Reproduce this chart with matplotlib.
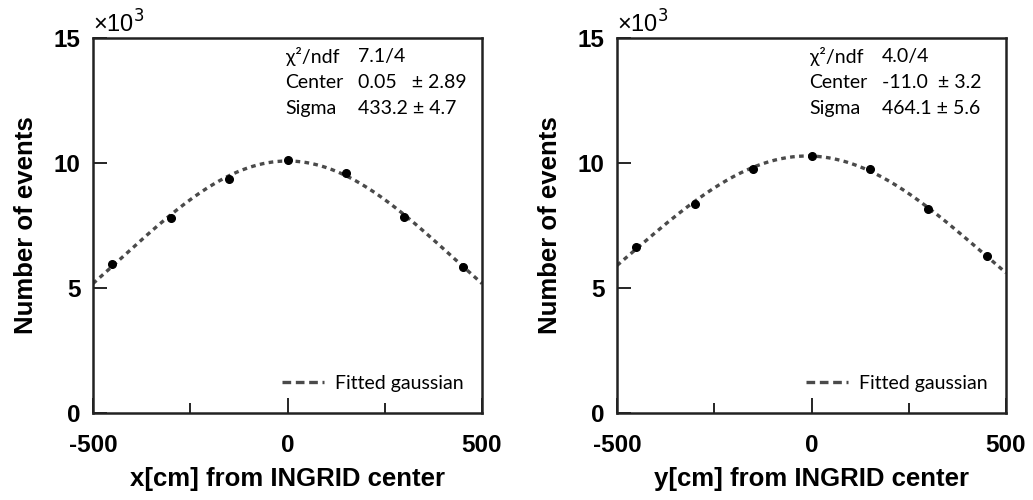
import matplotlib
matplotlib.use("Agg")
import matplotlib.pyplot as plt
import numpy as np
from matplotlib.lines import Line2D

# measured points (x in cm, counts in units of 10^3)
pos = [-450, -300, -150, 0, 150, 300, 450]
x_counts = [5.95, 7.81, 9.35, 10.12, 9.60, 7.85, 5.84]
y_counts = [6.65, 8.36, 9.76, 10.29, 9.75, 8.15, 6.28]

# gaussian fit results shown in the stat boxes
x_fit = dict(amp=10.08, center=0.05, sigma=433.2)
y_fit = dict(amp=10.28, center=-11.0, sigma=464.1)
x_stats = [("χ²/ndf", "7.1/4"), ("Center", "0.05   ± 2.89"), ("Sigma", "433.2 ± 4.7")]
y_stats = [("χ²/ndf", "4.0/4"), ("Center", "-11.0  ± 3.2"), ("Sigma", "464.1 ± 5.6")]

xlabels = ["x[cm] from INGRID center", "y[cm] from INGRID center"]

bold = dict(family="Liberation Sans", weight="bold")
stat_font = ["Lato", "DejaVu Sans"]
fs_stat = 14

fig = plt.figure(figsize=(10.33, 5.0), dpi=100)
ax1 = fig.add_axes([93 / 1033, 87 / 500, 389 / 1033, 375 / 500])
ax2 = fig.add_axes([617 / 1033, 87 / 500, 389 / 1033, 375 / 500])

panels = [(ax1, x_counts, x_fit, x_stats, xlabels[0]),
          (ax2, y_counts, y_fit, y_stats, xlabels[1])]

xx = np.linspace(-500, 500, 400)
for ax, counts, fit, stats, xlab in panels:
    curve = fit["amp"] * np.exp(-(xx - fit["center"]) ** 2 / (2 * fit["sigma"] ** 2))
    ax.plot(xx, curve, color="#4a4a4a", lw=2.4, dashes=(1.4, 1.3), zorder=2)
    ax.plot(pos, counts, "o", color="black", ms=5.5, zorder=3)

    ax.set_xlim(-500, 500)
    ax.set_ylim(0, 15)
    ax.set_xticks([-500, 0, 500])
    ax.set_xticks([-250, 250], minor=True)
    ax.set_yticks([0, 5, 10, 15])
    ax.set_xticklabels(["-500", "0", "500"], fontsize=17.5, **bold)
    ax.set_yticklabels(["0", "5", "10", "15"], fontsize=17.5, **bold)
    ax.tick_params(axis="x", which="major", direction="in", length=11, width=1.2, pad=15, top=False)
    ax.tick_params(axis="x", which="minor", direction="in", length=7, width=1.2, top=False)
    ax.tick_params(axis="y", which="major", direction="in", length=10, width=1.2, pad=9, right=False)
    for s in ax.spines.values():
        s.set_linewidth(1.8)
        s.set_color("#222222")

    ax.set_xlabel(xlab, fontsize=18.5, labelpad=7, **bold)
    ax.set_ylabel("Number of events", fontsize=18.5, labelpad=11, **bold)

    ax.text(0.0, 1.0, "×10$^3$", transform=ax.transAxes, fontsize=17,
            family="Liberation Sans", ha="left", va="bottom")

    for i, (name, val) in enumerate(stats):
        yy = 0.95 - i * 0.0695
        ax.text(0.495, yy, name, transform=ax.transAxes, fontsize=fs_stat,
                family=stat_font, va="center", ha="left")
        ax.text(0.681, yy, val, transform=ax.transAxes, fontsize=fs_stat,
                family=stat_font, va="center", ha="left")

    handle = Line2D([], [], color="#4a4a4a", lw=2.4, dashes=(2.6, 1.4))
    ax.legend([handle], ["Fitted gaussian"], loc="lower left",
              bbox_to_anchor=(0.44, 0.01), frameon=False,
              handlelength=2.2, handletextpad=0.55,
              prop=dict(family=stat_font, size=fs_stat))

fig.savefig("out.png", dpi=100)
